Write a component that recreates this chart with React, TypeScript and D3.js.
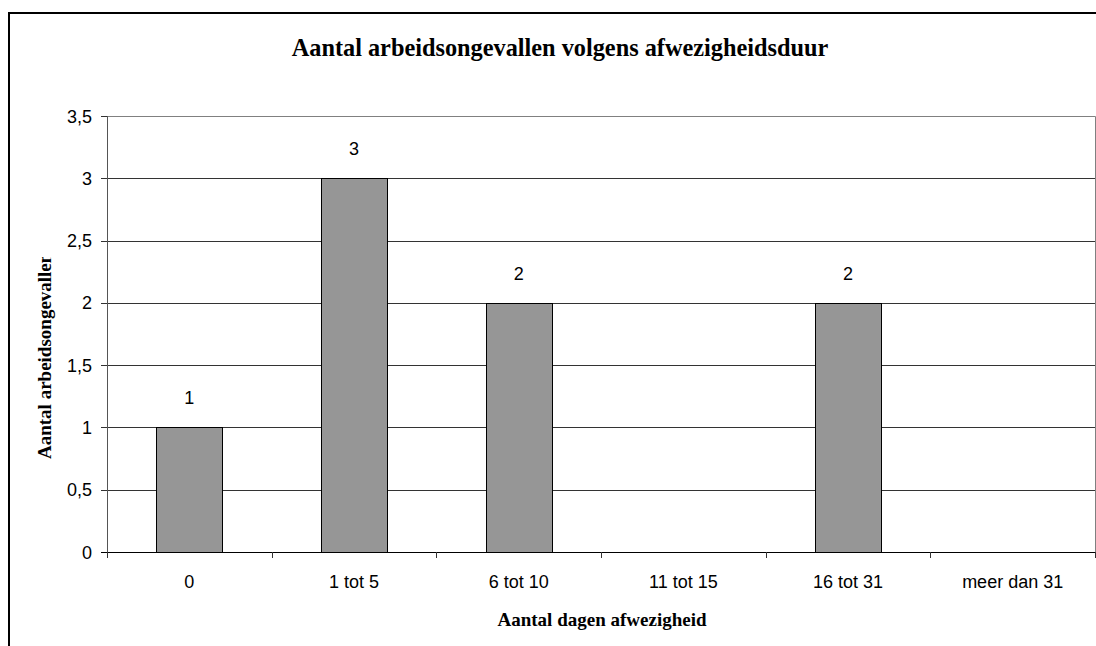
import { useEffect, useRef } from "react"
import * as d3 from "d3"

const categories = ["0", "1 tot 5", "6 tot 10", "11 tot 15", "16 tot 31", "meer dan 31"]
const values: (number | null)[] = [1, 3, 2, null, 2, null]
const yTicks = [0, 0.5, 1, 1.5, 2, 2.5, 3, 3.5]

const title = "Aantal arbeidsongevallen volgens afwezigheidsduur"
const xTitle = "Aantal dagen afwezigheid"
const yTitle = "Aantal arbeidsongevallen"

const W = 1096
const H = 646

const App = () => {
    const ref = useRef<SVGSVGElement>(null)

    useEffect(() => {
        const svg = d3.select(ref.current)
        svg.selectAll("*").remove()

        const left = 107, right = 1095, top = 116, bottom = 552
        const serif = "'Liberation Serif', 'Times New Roman', serif"
        const sans = "'Liberation Sans', Arial, sans-serif"

        const x = d3.scaleBand<string>()
            .domain(categories)
            .range([left, right])
            .paddingInner(0.6)
            .paddingOuter(0.3)
        const step = x.step()

        const y = d3.scaleLinear().domain([0, 3.5]).range([bottom, top])
        const fmt = (v: number) => String(v).replace(".", ",")
        const px = (v: number) => Math.round(v) + 0.5

        // outer chart frame (runs off the right and bottom)
        svg.append("rect")
            .attr("x", 9).attr("y", 13)
            .attr("width", W + 20).attr("height", H + 20)
            .attr("fill", "none").attr("stroke", "#000").attr("stroke-width", 2)

        svg.append("text")
            .attr("x", 560).attr("y", 56)
            .attr("text-anchor", "middle")
            .attr("font-family", serif).attr("font-weight", "bold").attr("font-size", 24.3)
            .text(title)

        // gridlines
        svg.append("g").selectAll("line")
            .data(yTicks.filter(t => t > 0 && t < 3.5))
            .join("line")
            .attr("x1", left).attr("x2", right)
            .attr("y1", d => px(y(d))).attr("y2", d => px(y(d)))
            .attr("stroke", "#333").attr("stroke-width", 1)

        // plot area border (top, right)
        svg.append("path")
            .attr("d", `M${left},${px(top)}H${px(right)}V${bottom}`)
            .attr("fill", "none").attr("stroke", "#808080")

        const barData = categories.map((c, i) => ({ c, v: values[i] })).filter(d => d.v !== null)

        // bars
        svg.append("g").selectAll("rect")
            .data(barData)
            .join("rect")
            .attr("x", d => px(x(d.c)!))
            .attr("y", d => px(y(d.v as number)))
            .attr("width", Math.round(x.bandwidth()))
            .attr("height", d => Math.round(y(0) - y(d.v as number)))
            .attr("fill", "#969696").attr("stroke", "#000")

        svg.append("g").selectAll("text")
            .data(barData)
            .join("text")
            .attr("x", d => x(d.c)! + x.bandwidth() / 2)
            .attr("y", d => y(d.v as number) - 23)
            .attr("text-anchor", "middle")
            .attr("font-family", sans).attr("font-size", 18)
            .text(d => String(d.v))

        // y axis
        svg.append("line")
            .attr("x1", px(left)).attr("x2", px(left))
            .attr("y1", top).attr("y2", bottom + 6)
            .attr("stroke", "#555")
        svg.append("g").selectAll("line")
            .data(yTicks)
            .join("line")
            .attr("x1", left - 6).attr("x2", left)
            .attr("y1", d => px(y(d))).attr("y2", d => px(y(d)))
            .attr("stroke", "#333")
        svg.append("g").selectAll("text")
            .data(yTicks)
            .join("text")
            .attr("x", 92).attr("y", d => y(d) + 6.5)
            .attr("text-anchor", "end")
            .attr("font-family", sans).attr("font-size", 18)
            .text(d => fmt(d))

        // x axis
        svg.append("line")
            .attr("x1", left - 6).attr("x2", right)
            .attr("y1", px(bottom)).attr("y2", px(bottom))
            .attr("stroke", "#000")
        svg.append("g").selectAll("line")
            .data(d3.range(categories.length + 1))
            .join("line")
            .attr("x1", i => px(left + i * step)).attr("x2", i => px(left + i * step))
            .attr("y1", bottom).attr("y2", bottom + 6)
            .attr("stroke", "#333")
        svg.append("g").selectAll("text")
            .data(categories)
            .join("text")
            .attr("x", d => x(d)! + x.bandwidth() / 2)
            .attr("y", 588)
            .attr("text-anchor", "middle")
            .attr("font-family", sans).attr("font-size", 18)
            .text(d => d)

        svg.append("text")
            .attr("x", 602).attr("y", 626)
            .attr("text-anchor", "middle")
            .attr("font-family", serif).attr("font-weight", "bold").attr("font-size", 19)
            .text(xTitle)

        // y title, clipped at the top like the original
        svg.append("clipPath").attr("id", "ytitle-clip")
            .append("rect").attr("x", 0).attr("y", 257).attr("width", 100).attr("height", 300)
        svg.append("g")
            .attr("clip-path", "url(#ytitle-clip)")
            .append("text")
            .attr("transform", "translate(51,459) rotate(-90)")
            .attr("font-family", serif).attr("font-weight", "bold").attr("font-size", 19)
            .text(yTitle)
    }, [])

    return (
        <svg ref={ref} width={W} height={H}
            style={{ position: "absolute", left: 0, top: 0, background: "#fff" }} />
    )
}

export default App
